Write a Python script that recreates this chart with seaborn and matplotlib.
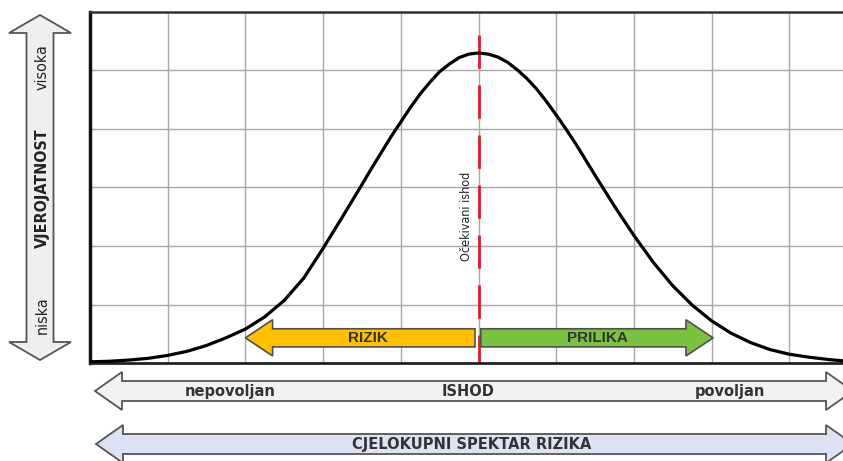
import numpy as np
import seaborn as sns
import matplotlib.pyplot as plt
from matplotlib.patches import FancyArrow, Polygon

# outcome axis positions (grid units) and curve heights
x_pos = [0.0, 0.25, 0.5, 0.75, 1.0, 1.25, 1.5, 1.75, 2.0, 2.25,
         2.5, 2.75, 3.0, 3.25, 3.5, 3.625, 3.75, 3.875, 4.0, 4.125,
         4.25, 4.375, 4.5, 4.625, 4.75, 4.875, 5.0, 5.125, 5.25, 5.375,
         5.5, 5.625, 5.75, 5.875, 6.0, 6.125, 6.25, 6.375, 6.5, 6.75,
         7.0, 7.25, 7.5, 7.75, 8.0, 8.25, 8.5, 8.75, 9.0, 9.25,
         9.5, 9.75, 10.0]
density = [0.02, 0.03, 0.05, 0.08, 0.13, 0.20, 0.30, 0.43, 0.58, 0.79,
           1.07, 1.45, 1.96, 2.50, 3.05, 3.33, 3.60, 3.87, 4.12, 4.37,
           4.60, 4.80, 4.98, 5.11, 5.22, 5.28, 5.30, 5.28, 5.23, 5.14,
           5.01, 4.86, 4.68, 4.47, 4.24, 4.00, 3.75, 3.48, 3.21, 2.68,
           2.18, 1.72, 1.32, 0.99, 0.72, 0.51, 0.35, 0.23, 0.15, 0.10,
           0.06, 0.03, 0.02]

risk_label = 'RIZIK'
chance_label = 'PRILIKA'
expected_label = 'Očekivani ishod'
prob_labels = ['visoka', 'VJEROJATNOST', 'niska']
outcome_labels = ['nepovoljan', 'ISHOD', 'povoljan']
spectrum_label = 'CJELOKUPNI SPEKTAR RIZIKA'

W, H = 843, 461

sns.set_style('white')
fig = plt.figure(figsize=(W / 100, H / 100), dpi=100)

# main plot area: left edge 90px, bottom 363px, top 12px, runs off the right side
ax = fig.add_axes([90 / W, (H - 363) / H, (W - 90) / W, 351 / H])
sns.lineplot(x=x_pos, y=density, color='black', lw=2.3, ax=ax, zorder=3)
ax.set_xlim(0, (W - 90) / 77.7)
ax.set_ylim(0, 6)
ax.set_xticks(range(0, 10))
ax.set_yticks(range(0, 7))
ax.set_xticklabels([])
ax.set_yticklabels([])
ax.tick_params(length=0)
ax.grid(True, color='#a8a8a8', lw=1)
ax.set_axisbelow(True)
ax.spines['right'].set_visible(False)
ax.spines['left'].set_linewidth(2.5)
ax.spines['left'].set_color('#111111')
ax.spines['bottom'].set_linewidth(2.0)
ax.spines['bottom'].set_color('#222222')
ax.spines['top'].set_linewidth(1.8)
ax.spines['top'].set_color('#333333')

# expected outcome: dashed red line through the peak
expected = x_pos[int(np.argmax(density))]
ax.plot([expected, expected], [5.6, 0], color='#e3192b', lw=2.0,
        dashes=(12, 6), zorder=2)
ax.text(expected - 0.16, 2.5, expected_label, rotation=90, ha='center',
        va='center', fontsize=9, color='#222222', fontstretch='condensed', zorder=4)

# risk / opportunity arrows
yc = 0.43
ax.add_patch(FancyArrow(4.955, yc, 2.0 - 4.955, 0, width=0.31, head_width=0.62,
                        head_length=0.35, length_includes_head=True,
                        facecolor='#ffc000', edgecolor='#505050', lw=1.2, zorder=5))
ax.add_patch(FancyArrow(5.03, yc, 8.02 - 5.03, 0, width=0.31, head_width=0.62,
                        head_length=0.35, length_includes_head=True,
                        facecolor='#7cc242', edgecolor='#505050', lw=1.2, zorder=5))
ax.text((2.0 + 4.955) / 2 + 0.1, yc, risk_label, ha='center', va='center',
        fontsize=11, fontweight='bold', color='#333333',
        family='Liberation Sans', zorder=6)
ax.text((5.03 + 8.02) / 2, yc, chance_label, ha='center', va='center',
        fontsize=11, fontweight='bold', color='#333333',
        family='Liberation Sans', zorder=6)

# overlay in pixel coordinates for the framing arrows
ov = fig.add_axes([0, 0, 1, 1], zorder=5)
ov.set_xlim(0, W)
ov.set_ylim(H, 0)
ov.axis('off')
ov.patch.set_alpha(0)


def double_arrow(x0, x1, c, body, head, hlen, vertical=False):
    pts = [(x0, c), (x0 + hlen, c - head), (x0 + hlen, c - body),
           (x1 - hlen, c - body), (x1 - hlen, c - head), (x1, c),
           (x1 - hlen, c + head), (x1 - hlen, c + body),
           (x0 + hlen, c + body), (x0 + hlen, c + head)]
    if vertical:
        pts = [(b, a) for a, b in pts]
    return pts


ov.add_patch(Polygon(double_arrow(15, 360, 40, 13.5, 31, 18, vertical=True),
                     closed=True, facecolor='#efefef', edgecolor='#555555', lw=1.3))
ov.add_patch(Polygon(double_arrow(95, 853, 391, 10, 19, 27),
                     closed=True, facecolor='#f2f2f2', edgecolor='#555555', lw=1.3))
ov.add_patch(Polygon(double_arrow(96, 853, 444, 10, 19, 27),
                     closed=True, facecolor='#dde3f4', edgecolor='#555555', lw=1.3))

for label, y, weight in zip(prob_labels, [67, 188, 315], ['normal', 'bold', 'normal']):
    ov.text(42, y, label, rotation=90, ha='center', va='center', fontsize=11.5,
            fontweight=weight, color='#222222', fontstretch='condensed')

for label, x in zip(outcome_labels, [230, 468, 730]):
    ov.text(x, 391, label, ha='center', va='center', fontsize=10.5,
            fontweight='bold', color='#333333')
ov.text(472, 444, spectrum_label, ha='center', va='center', fontsize=10.5,
        fontweight='bold', color='#333333')

fig.savefig('out.png', dpi=100)
